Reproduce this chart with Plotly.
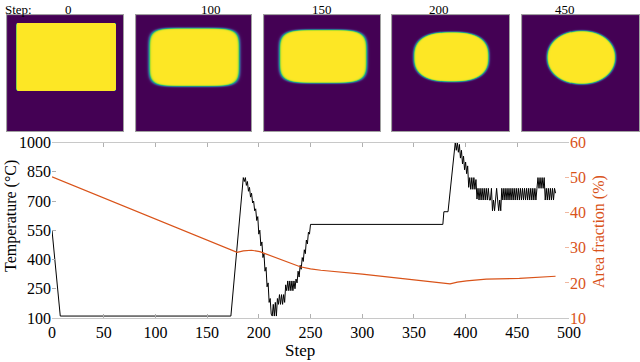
import numpy as np
import plotly.graph_objects as go

# Snapshot row: grain shape at selected steps
snapshot_steps = [0, 100, 150, 200, 450]
grain_cx = [0.51, 0.507, 0.51, 0.507, 0.507]
grain_cy = [0.36, 0.363, 0.356, 0.36, 0.365]
grain_half_w = [0.433, 0.398, 0.381, 0.323, 0.294]
grain_half_h = [0.295, 0.254, 0.233, 0.217, 0.233]
grain_power = [60, 5.5, 4.5, 2.6, 2.1]
grain_edge = [0.004, 0.03, 0.03, 0.03, 0.03]

# Temperature history (black)
temp_steps = [0, 8, 173] + list(range(185, 251)) + [378, 379, 383] + list(range(390, 488))
temp_values = (
    [550, 110, 110]
    + [820, 800, 820, 780, 800, 750, 770, 720, 740, 690,
       700, 650, 660, 600, 620, 530, 550, 470, 490, 410,
       430, 340, 360, 260, 280, 180, 200, 120, 110, 170,
       110, 180, 110, 200, 170, 220, 170, 220, 170, 220,
       180, 270, 240, 290, 240, 290, 240, 290, 240, 290,
       250, 300, 280, 340, 310, 370, 350, 410, 390, 450,
       430, 500, 480, 540, 530, 580]
    + [580, 645, 645]
    + [1000, 960, 1000, 950, 990, 920, 960, 890, 930, 860,
       900, 840, 880, 770, 820, 760, 820, 760, 820, 760,
       810, 710, 765, 705, 765, 705, 765, 705, 765, 705,
       765, 705, 765, 705, 705, 765, 650, 705, 650, 705,
       765, 705, 650, 705, 650, 765, 705, 765, 705, 765,
       705, 765, 705, 765, 705, 765, 705, 765, 705, 765,
       705, 765, 705, 765, 705, 765, 705, 765, 705, 765,
       705, 765, 705, 765, 705, 765, 705, 765, 705, 765,
       820, 765, 820, 765, 820, 765, 820, 705, 765, 705,
       765, 705, 765, 705, 765, 705, 765, 740]
)

# Grain area fraction (orange)
area_steps = [0, 179, 185, 193, 201, 211, 230, 240, 250, 260, 300, 385, 392, 401, 420, 452, 487]
area_values = [50.2, 28.7, 29.1, 29.3, 28.9, 27.8, 25.5, 24.6, 24.0, 23.6, 22.5, 19.7, 20.2,
               20.6, 21.1, 21.3, 21.9]

W, H = 640, 362
SERIF = "Liberation Serif, Times New Roman, serif"
ORANGE = "#D95319"


def px_x(x):
    return x / W


def px_y(y):
    return 1 - y / H


def grain_field(cx, cy, a, b, p, w, n=116):
    xs = np.linspace(0, 1, n)
    gx, gy = np.meshgrid(xs, xs)
    r = (np.abs(gx - cx) / a) ** p + (np.abs(gy - cy) / b) ** p
    r = r ** (1.0 / p)
    return xs, 0.5 * (1 - np.tanh((r - 1) / w))


fig = go.Figure()

# snapshot images
img_left = [7, 136, 264, 392, 522]
img_right = [123, 251, 380, 509, 639]
for i in range(len(snapshot_steps)):
    xs, z = grain_field(grain_cx[i], grain_cy[i], grain_half_w[i], grain_half_h[i],
                        grain_power[i], grain_edge[i])
    k = i + 3
    fig.add_trace(go.Heatmap(z=z, x=xs, y=xs, colorscale="Viridis", zmin=0, zmax=1,
                             showscale=False, hoverinfo="skip",
                             xaxis=f"x{k}", yaxis=f"y{k}"))
    fig.layout[f"xaxis{k}"] = dict(domain=[px_x(img_left[i]), px_x(img_right[i])],
                                   anchor=f"y{k}", range=[-0.005, 1.005], visible=True,
                                   showticklabels=False, ticks="", showgrid=False,
                                   zeroline=False, showline=True, mirror=True,
                                   linecolor="#a0a0a0", linewidth=1)
    fig.layout[f"yaxis{k}"] = dict(domain=[px_y(131), px_y(15)], anchor=f"x{k}",
                                   range=[1.005, -0.005], showticklabels=False, ticks="",
                                   showgrid=False, zeroline=False, showline=True, mirror=True,
                                   linecolor="#a0a0a0", linewidth=1)

# main chart
fig.add_trace(go.Scatter(x=temp_steps, y=temp_values, mode="lines",
                         line=dict(color="black", width=1), showlegend=False))
fig.add_trace(go.Scatter(x=area_steps, y=area_values, mode="lines", yaxis="y2",
                         line=dict(color=ORANGE, width=1.2), showlegend=False))

fig.update_layout(
    width=W, height=H,
    margin=dict(l=0, r=0, t=0, b=0, autoexpand=False),
    paper_bgcolor="white", plot_bgcolor="white",
    font=dict(family=SERIF, size=16, color="black"),
    xaxis=dict(domain=[px_x(52), px_x(569)], range=[0, 500], dtick=50,
               showgrid=False, zeroline=False, showline=True, mirror="ticks",
               linecolor="#c8c8c8", ticks="inside", ticklen=4, tickcolor="#b0b0b0",
               tickfont=dict(size=16)),
    yaxis=dict(domain=[px_y(318), px_y(142.5)], range=[100, 1000],
               tickvals=[100, 250, 400, 550, 700, 850, 1000],
               showgrid=False, zeroline=False, showline=False,
               ticks="inside", ticklen=4, tickcolor="#b0b0b0", tickfont=dict(size=16)),
    yaxis2=dict(overlaying="y", side="right", range=[10, 60], dtick=10,
                showgrid=False, zeroline=False, showline=False,
                ticks="inside", ticklen=4, tickcolor="#f0b8a0",
                tickfont=dict(size=16, color=ORANGE)),
)

# axis titles
fig.add_annotation(text="Temperature (°C)", x=0, y=px_y(216), xref="paper", yref="paper",
                   xanchor="left", showarrow=False, textangle=-90, font=dict(size=16))
fig.add_annotation(text="Area fraction (%)", x=px_x(610), y=px_y(232), xref="paper",
                   yref="paper", showarrow=False, textangle=-90,
                   font=dict(size=16, color=ORANGE))
fig.add_annotation(text="Step", x=px_x(300), y=0, xref="paper", yref="paper",
                   yanchor="bottom", showarrow=False, font=dict(size=17))

# snapshot labels
fig.add_annotation(text="Step:", x=px_x(3), y=1, xref="paper", yref="paper",
                   xanchor="left", yanchor="top", showarrow=False, font=dict(size=13))
label_x = [62.5, 199, 322, 451, 577]
for lx, s in zip(label_x, snapshot_steps):
    fig.add_annotation(text=str(s), x=px_x(lx), y=1, xref="paper", yref="paper",
                       yanchor="top", showarrow=False, font=dict(size=13))

fig.write_html("out.html", config={"displayModeBar": False},
               post_script="document.body.style.margin='0';document.body.style.overflow='hidden';")
